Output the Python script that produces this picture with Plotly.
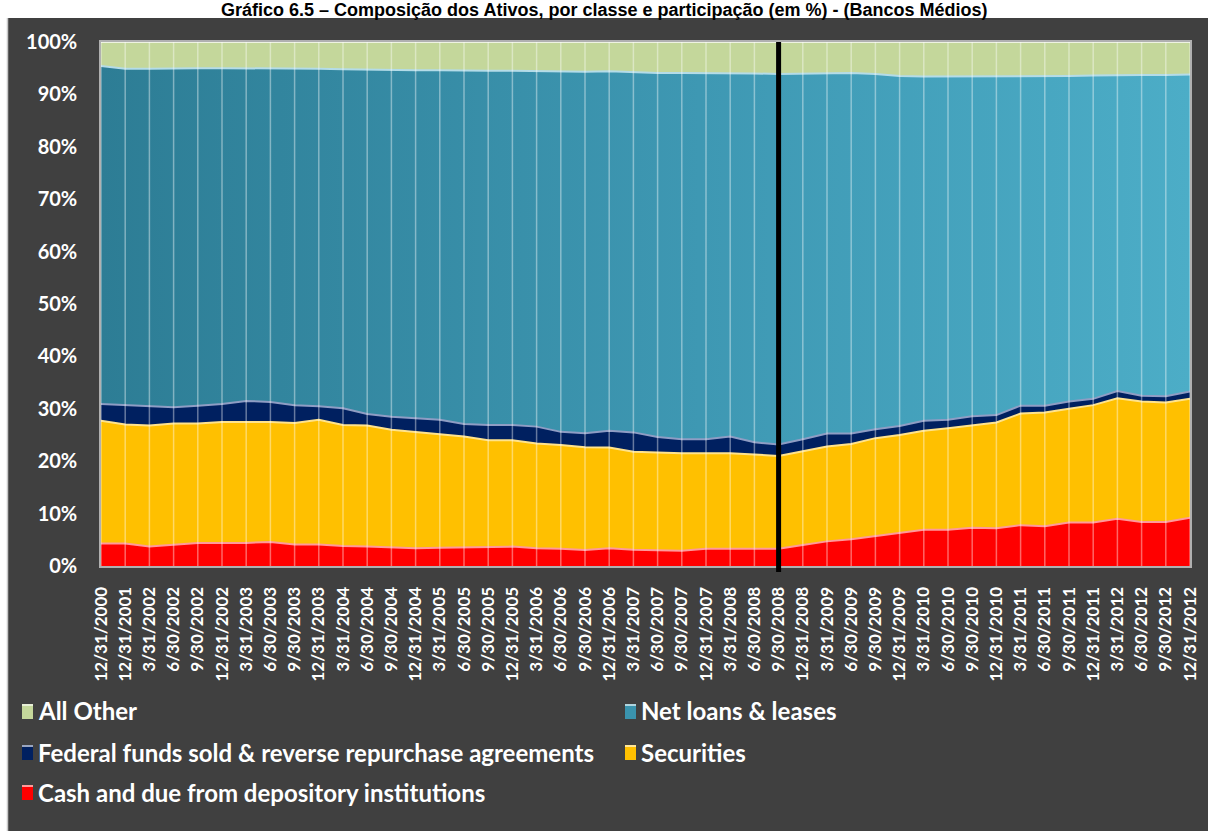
import plotly.graph_objects as go

dates = ["12/31/2000", "12/31/2001", "3/31/2002", "6/30/2002", "9/30/2002", "12/31/2002",
         "3/31/2003", "6/30/2003", "9/30/2003", "12/31/2003", "3/31/2004", "6/30/2004",
         "9/30/2004", "12/31/2004", "3/31/2005", "6/30/2005", "9/30/2005", "12/31/2005",
         "3/31/2006", "6/30/2006", "9/30/2006", "12/31/2006", "3/31/2007", "6/30/2007",
         "9/30/2007", "12/31/2007", "3/31/2008", "6/30/2008", "9/30/2008", "12/31/2008",
         "3/31/2009", "6/30/2009", "9/30/2009", "12/31/2009", "3/31/2010", "6/30/2010",
         "9/30/2010", "12/31/2010", "3/31/2011", "6/30/2011", "9/30/2011", "12/31/2011",
         "3/31/2012", "6/30/2012", "9/30/2012", "12/31/2012"]

cash = [4.3, 4.3, 3.7, 4.1, 4.4, 4.4, 4.4, 4.6, 4.1, 4.1, 3.8, 3.7, 3.6, 3.4, 3.5, 3.6,
        3.7, 3.7, 3.4, 3.3, 3.05, 3.4, 3.1, 3.05, 2.9, 3.3, 3.3, 3.3, 3.3, 4.0, 4.7, 5.1,
        5.7, 6.2, 6.9, 6.9, 7.3, 7.2, 7.8, 7.6, 8.3, 8.3, 9.0, 8.4, 8.4, 9.2]

securities = [23.4, 22.7, 23.1, 23.1, 22.8, 23.1, 23.1, 22.9, 23.2, 23.8, 23.1, 23.1, 22.4,
              22.2, 21.7, 21.1, 20.3, 20.3, 20.0, 19.8, 19.6, 19.2, 18.7, 18.6, 18.6, 18.2,
              18.2, 18.0, 17.7, 17.9, 18.1, 18.2, 18.7, 18.8, 18.9, 19.4, 19.6, 20.2, 21.3,
              21.7, 21.7, 22.4, 23.0, 23.0, 22.8, 22.7]

fed_funds = [3.2, 3.7, 3.7, 3.1, 3.4, 3.4, 4.0, 3.8, 3.4, 2.6, 3.2, 2.2, 2.5, 2.6, 2.7, 2.4,
             2.9, 2.9, 3.2, 2.5, 2.7, 3.2, 3.7, 3.0, 2.7, 2.7, 3.2, 2.3, 2.2, 2.3, 2.5, 2.0,
             1.7, 1.7, 1.9, 1.6, 1.7, 1.4, 1.5, 1.3, 1.4, 1.2, 1.4, 1.1, 1.2, 1.4]

net_loans = [64.5, 64.2, 64.4, 64.7, 64.4, 64.1, 63.5, 63.7, 64.2, 64.4, 64.7, 65.7, 66.2,
             66.4, 66.7, 67.4, 67.6, 67.6, 67.8, 68.7, 69.0, 68.6, 68.7, 69.5, 69.9, 69.9,
             69.4, 70.4, 70.7, 69.8, 68.8, 68.8, 67.8, 66.8, 65.7, 65.5, 64.8, 64.6, 62.8,
             62.8, 62.1, 61.7, 60.3, 61.2, 61.3, 60.5]

all_other = [4.6, 5.1, 5.1, 5.0, 5.0, 5.0, 5.0, 5.0, 5.1, 5.1, 5.2, 5.3, 5.3, 5.4, 5.4, 5.5,
             5.5, 5.5, 5.6, 5.7, 5.7, 5.6, 5.8, 5.9, 5.9, 5.9, 5.9, 6.0, 6.1, 6.0, 5.9, 5.9,
             6.1, 6.5, 6.6, 6.6, 6.6, 6.6, 6.6, 6.6, 6.5, 6.4, 6.3, 6.3, 6.3, 6.2]

series_names = ["Cash and due from depository institutions", "Securities",
                "Federal funds sold & reverse repurchase agreements", "Net loans & leases",
                "All Other"]
series_values = [cash, securities, fed_funds, net_loans, all_other]
fill_colors = ["#FF0000", "#FFC000", "#002060", "#4BACC6", "#C4D79B"]
edge_colors = ["#FF9A9A", "#FFE38C", "#8E9DC4", "#B4DCE8", "#EEF3E2"]
legend_marks = ["#FF0000", "#FFC000", "#002060", "#3A93AD", "#C4D79B"]

crisis_label = "9/30/2008"
title_text = "Gráfico 6.5 – Composição dos Ativos, por classe e participação (em %) - (Bancos Médios)"

W, H = 1208, 831
L, R, T, B = 101, 18, 42, 265
PW, PH = W - L - R, H - T - B


def px(x):
    return (x - L) / PW


def py(y):
    return (H - B - y) / PH


fig = go.Figure()
for name, vals, fc, ec in zip(series_names, series_values, fill_colors, edge_colors):
    kw = dict(x=dates, y=vals, name=name, mode="lines", stackgroup="one",
              groupnorm="percent", line=dict(color=ec, width=2), fillcolor=fc,
              showlegend=False, hoverinfo="x+y+name")
    if name == "Net loans & leases":
        kw["fillgradient"] = dict(type="horizontal",
                                  colorscale=[[0, "#2D7D95"], [0.55, "#3E98B3"], [1, "#4CADC7"]])
    fig.add_trace(go.Scatter(**kw))

fig.update_layout(
    width=W, height=H,
    margin=dict(l=L, r=R, t=T, b=B, autoexpand=False),
    paper_bgcolor="#404040", plot_bgcolor="#404040",
    showlegend=False,
    xaxis=dict(type="category", range=[0, len(dates) - 1], tickangle=-90,
               tickfont=dict(family="Lato", size=17, color="white", weight="bold"),
               showgrid=False, layer="above traces", showline=True, linecolor="#B0B0B0",
               linewidth=2, mirror=True, ticks="outside", ticklen=12,
               tickcolor="rgba(0,0,0,0)", zeroline=False),
    yaxis=dict(range=[0, 100], dtick=10, ticksuffix="%",
               tickfont=dict(family="Lato", size=20, color="white", weight="bold"),
               showgrid=False, showline=True, linecolor="#B0B0B0", linewidth=1.5,
               mirror=True, ticks="outside", ticklen=18, tickcolor="rgba(0,0,0,0)",
               layer="above traces", zeroline=False),
)

shapes = []
# translucent vertical lines at every category, above the areas
for d in dates:
    shapes.append(dict(type="line", xref="x", yref="paper", x0=d, x1=d, y0=0, y1=1,
                       line=dict(color="rgba(255,255,255,0.4)", width=1.5), layer="above"))
shapes += [
    # crisis divider
    dict(type="line", xref="x", yref="paper", x0=crisis_label, x1=crisis_label,
         y0=py(572), y1=1, line=dict(color="black", width=5), layer="above"),
    # white page strip at top (title area) and left
    dict(type="rect", xref="paper", yref="paper", x0=px(-5), x1=px(W + 5), y0=py(18), y1=py(-5),
         fillcolor="white", line=dict(width=0), layer="below"),
    dict(type="rect", xref="paper", yref="paper", x0=px(-5), x1=px(7), y0=py(H + 5), y1=py(-5),
         fillcolor="white", line=dict(width=0), layer="below"),
    dict(type="line", xref="paper", yref="paper", x0=px(7.5), x1=px(7.5), y0=py(H + 5), y1=py(18),
         line=dict(color="#C8C8C8", width=1.5), layer="below"),
]

annotations = [
    dict(text=title_text, xref="paper", yref="paper", x=px(604), y=py(-2), xanchor="center",
         yanchor="top", showarrow=False,
         font=dict(family="Liberation Sans", size=18, color="black", weight="bold")),
]

# legend (drawn manually to match the reference's two-column layout)
legend_order = [4, 3, 2, 1, 0]
legend_pos = [(22, 711), (625, 711), (22, 752), (625, 752), (22, 792)]
for idx, (lx, ly) in zip(legend_order, legend_pos):
    shapes.append(dict(type="rect", xref="paper", yref="paper", x0=px(lx), x1=px(lx + 11),
                       y0=py(ly + 8), y1=py(ly - 7), fillcolor=legend_marks[idx],
                       line=dict(width=0), layer="above"))
    shapes.append(dict(type="rect", xref="paper", yref="paper", x0=px(lx), x1=px(lx + 11),
                       y0=py(ly - 5), y1=py(ly - 7), fillcolor="rgba(255,255,255,0.6)",
                       line=dict(width=0), layer="above"))
    annotations.append(dict(text=series_names[idx], xref="paper", yref="paper", x=px(lx + 14),
                            y=py(ly), xanchor="left", yanchor="middle", showarrow=False,
                            font=dict(family="Lato", size=24, color="white", weight="bold")))

fig.update_layout(shapes=shapes, annotations=annotations)
fig.write_html("out.html", config={"displayModeBar": False},
               post_script="document.body.style.margin='0';")
